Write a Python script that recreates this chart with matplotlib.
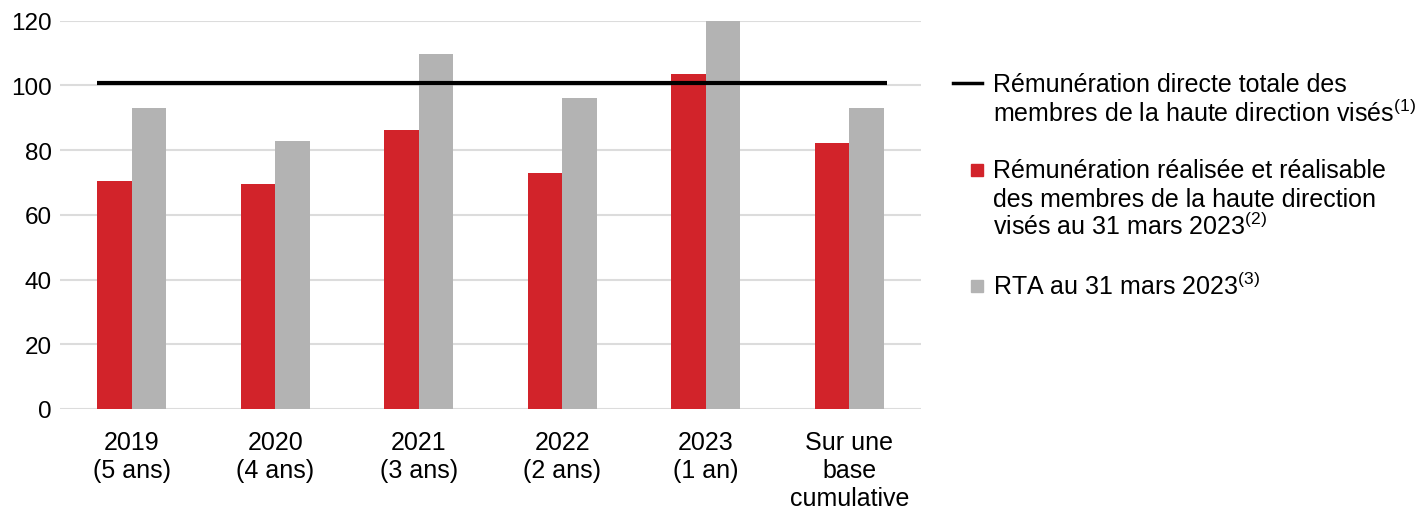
import matplotlib
matplotlib.use("Agg")
import matplotlib.pyplot as plt
import matplotlib.patches as mpatches
from matplotlib.lines import Line2D
import numpy as np

plt.rcParams['font.family'] = ['Liberation Sans', 'DejaVu Sans']
plt.rcParams['mathtext.fontset'] = 'custom'
plt.rcParams['mathtext.rm'] = 'Liberation Sans'
plt.rcParams['mathtext.it'] = 'Liberation Sans'

categories = ["2019\n(5 ans)", "2020\n(4 ans)", "2021\n(3 ans)", "2022\n(2 ans)",
              "2023\n(1 an)", "Sur une\nbase\ncumulative"]
realise = [70.5, 69.5, 86.1, 72.9, 103.4, 82.2]
rta = [92.9, 82.9, 109.5, 96.2, 120.0, 92.9]
directe_totale = 100.6
yticks = [0, 20, 40, 60, 80, 100, 120]

RED = '#D2232A'
GREY = '#B3B3B3'
GRID = '#DCDCDC'
FS = 18

W, H = 1418, 510
fig = plt.figure(figsize=(W / 100, H / 100), dpi=100)
ax = fig.add_axes([60 / W, 1 - 410 / H, 861 / W, (410 - 21.5) / H])

x = np.arange(len(categories))
bw = 0.24
ax.bar(x - bw / 2, realise, width=bw, color=RED, zorder=2)
ax.bar(x + bw / 2, rta, width=bw, color=GREY, zorder=2)
ax.plot([x[0] - bw, x[-1] + bw + 0.02], [directe_totale, directe_totale],
        color='black', lw=3, zorder=3, solid_capstyle='butt')

ax.set_xlim(-0.5, len(categories) - 0.5)
ax.set_ylim(0, 120)
ax.set_yticks(yticks)
ax.set_yticklabels([str(v) for v in yticks])
ax.yaxis.grid(True, color=GRID, lw=1.5, zorder=0)
ax.set_axisbelow(True)
ax.set_xticks(x)
ax.set_xticklabels(categories)
for s in ax.spines.values():
    s.set_visible(False)
ax.tick_params(axis='y', length=0, pad=6, labelsize=17.5)
ax.tick_params(axis='x', length=0, pad=15, labelsize=FS)
for t in ax.get_xticklabels():
    t.set_linespacing(1.22)

# legend (drawn manually)
def fx(px):
    return px / W

def fy(py):
    return 1 - py / H

fig.add_artist(Line2D([fx(953), fx(982)], [fy(84), fy(84)], color='black', lw=2.5,
                      transform=fig.transFigure))
fig.add_artist(mpatches.Rectangle((fx(970.5), fy(177)), 12.5 / W, 12.5 / H, color=RED,
                                  transform=fig.transFigure))
fig.add_artist(mpatches.Rectangle((fx(970.5), fy(293)), 12.5 / W, 12.5 / H, color=GREY,
                                  transform=fig.transFigure))

legend_lines = [
    (993, 92.5, "Rémunération directe totale des"),
    (993, 122, r"membres de la haute direction visés$^{\mathrm{(1)}}$"),
    (993, 178, "Rémunération réalisée et réalisable"),
    (993, 206.7, "des membres de la haute direction"),
    (993, 235, r"visés au 31 mars 2023$^{\mathrm{(2)}}$"),
    (993, 295, r"RTA au 31 mars 2023$^{\mathrm{(3)}}$"),
]
for px, py, txt in legend_lines:
    fig.text(fx(px), fy(py), txt, fontsize=FS, va='baseline', ha='left', color='black')

fig.savefig("out.png", dpi=100)
